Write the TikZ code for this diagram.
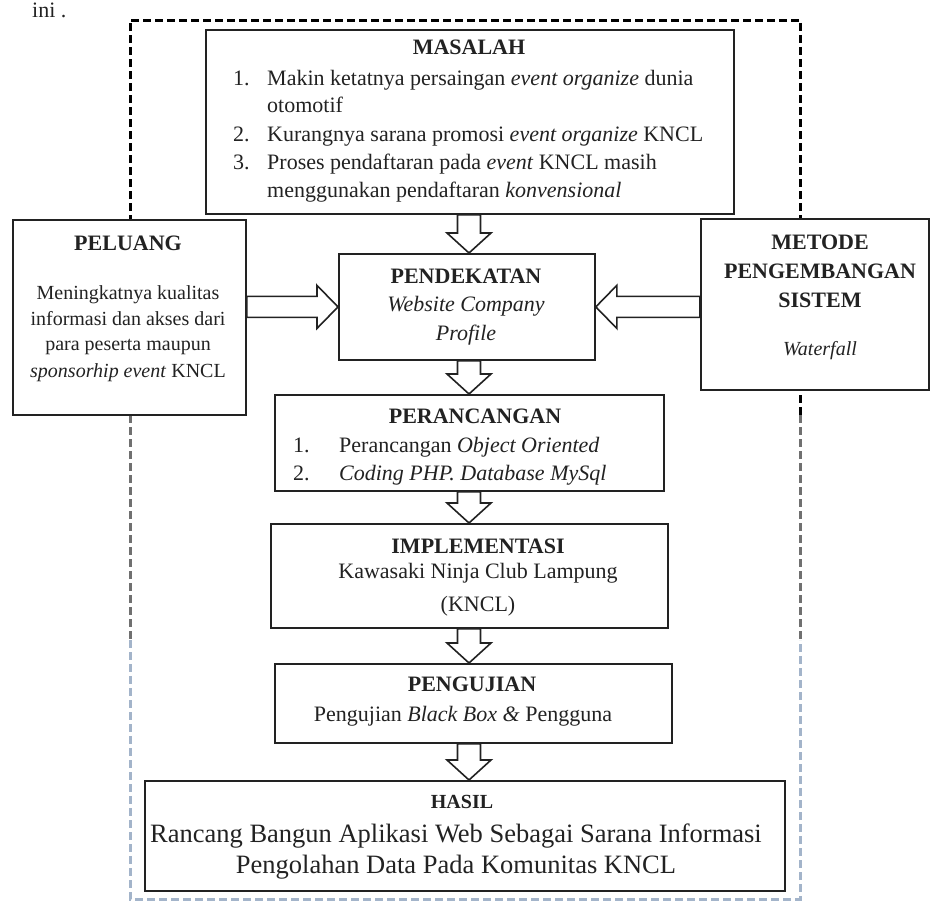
\documentclass[tikz,border=0pt]{standalone}
\usepackage{fontspec}
\setmainfont{Liberation Serif}
\usetikzlibrary{calc}
\definecolor{midg}{HTML}{707070}
\definecolor{lowb}{HTML}{A3B4CA}
\definecolor{ink}{HTML}{222222}
\newcommand{\fa}{\fontsize{22pt}{26pt}\selectfont}
\newcommand{\fb}{\fontsize{20pt}{24pt}\selectfont}
\newcommand{\fc}{\fontsize{26.5pt}{31pt}\selectfont}
\newcommand{\vblock}[2]{%
 \draw[blockarr] let \p1=(#1.south), \p2=(#2.north), \p3=(axis) in
 (\x3-11.5pt,\y1) -- (\x3+11.5pt,\y1) -- (\x3+11.5pt,\y2+20pt) -- (\x3+22pt,\y2+20pt)
 -- (\x3,\y2) -- (\x3-22pt,\y2+20pt) -- (\x3-11.5pt,\y2+20pt) -- cycle;}
\newcommand{\rblock}[2]{%
 \draw[blockarr] let \p1=(#1.east), \p2=(#2.west) in
 (\x1,\y2+10.5pt) -- (\x2-21pt,\y2+10.5pt) -- (\x2-21pt,\y2+21.5pt) -- (\x2,\y2)
 -- (\x2-21pt,\y2-21.5pt) -- (\x2-21pt,\y2-10.5pt) -- (\x1,\y2-10.5pt) -- cycle;}
\newcommand{\lblock}[2]{%
 \draw[blockarr] let \p1=(#1.west), \p2=(#2.east) in
 (\x1,\y2+10.5pt) -- (\x2+21pt,\y2+10.5pt) -- (\x2+21pt,\y2+21.5pt) -- (\x2,\y2)
 -- (\x2+21pt,\y2-21.5pt) -- (\x2+21pt,\y2-10.5pt) -- (\x1,\y2-10.5pt) -- cycle;}
\begin{document}
\begin{tikzpicture}[x=1pt,y=-1pt,
  box/.style={draw=ink, line width=1.8pt, fill=white, inner sep=0pt, anchor=north west},
  frame/.style={line width=3pt, dash pattern=on 8pt off 4pt},
  blockarr/.style={draw=ink, line width=1.6pt, fill=white, line join=miter},
  txt/.style={inner sep=0pt, text=ink}]
\useasboundingbox (0,0) rectangle (931,902);

% dashed frame
\draw[frame, draw=black] (130,415) -- (130,20) -- (800,20) -- (800,415);
\draw[frame, draw=midg] (130,415) -- (130,640);
\draw[frame, draw=midg] (800,415) -- (800,640);
\draw[frame, draw=lowb] (130,640) -- (130,899) -- (800,899) -- (800,640);

\node[txt, anchor=base west] (ini) at (32,17) {\fa ini .};

% boxes
\node[box, minimum width=528pt, minimum height=184pt] (masalah) at (205,29) {};
\node[box, minimum width=233pt, minimum height=195pt] (peluang) at (12,219) {};
\node[box, minimum width=256pt, minimum height=106pt] (pendekatan) at (338,253) {};
\node[box, minimum width=228pt, minimum height=171pt] (metode) at (700,218) {};
\node[box, minimum width=389pt, minimum height=96pt] (perancangan) at (274,394) {};
\node[box, minimum width=397pt, minimum height=104pt] (implementasi) at (270,523) {};
\node[box, minimum width=397pt, minimum height=79pt] (pengujian) at (274,663) {};
\node[box, minimum width=640pt, minimum height=110pt] (hasil) at (144,780) {};

% arrows
\coordinate (axis) at (469,0);
\vblock{masalah}{pendekatan}
\vblock{pendekatan}{perancangan}
\vblock{perancangan}{implementasi}
\vblock{implementasi}{pengujian}
\vblock{pengujian}{hasil}
\rblock{peluang}{pendekatan}
\lblock{metode}{pendekatan}

% MASALAH text
\node[txt, anchor=base] (tmas) at (469,54) {\fa\bfseries MASALAH};
\node[txt, anchor=base west] (m1n) at (233,85) {\fa 1.};
\node[txt, anchor=base west] (m1) at (267,85) {\fa Makin ketatnya persaingan \textit{event organize} dunia};
\node[txt, anchor=base west] (m1b) at (267,112) {\fa otomotif};
\node[txt, anchor=base west] (m2n) at (233,141) {\fa 2.};
\node[txt, anchor=base west] (m2) at (267,141) {\fa Kurangnya sarana promosi \textit{event organize} KNCL};
\node[txt, anchor=base west] (m3n) at (233,169) {\fa 3.};
\node[txt, anchor=base west] (m3) at (267,169) {\fa Proses pendaftaran pada \textit{event} KNCL masih};
\node[txt, anchor=base west] (m3b) at (267,197) {\fa menggunakan pendaftaran \textit{konvensional}};

% PELUANG text
\node[txt, anchor=base] (tpel) at (128,250) {\fa\bfseries PELUANG};
\node[txt, anchor=base] (p1) at (128,299) {\fb Meningkatnya kualitas};
\node[txt, anchor=base] (p2) at (128,325) {\fb informasi dan akses dari};
\node[txt, anchor=base] (p3) at (128,350) {\fb para peserta maupun};
\node[txt, anchor=base] (p4) at (128,377) {\fb \textit{sponsorhip event} KNCL};

% METODE text
\node[txt, anchor=base] (tme1) at (820,249) {\fa\bfseries METODE};
\node[txt, anchor=base] (tme2) at (820,278) {\fa\bfseries PENGEMBANGAN};
\node[txt, anchor=base] (tme3) at (820,307) {\fa\bfseries SISTEM};
\node[txt, anchor=base] (wf) at (820,355) {\fb\itshape Waterfall};

% PENDEKATAN text
\node[txt, anchor=base] (tpen) at (466,283) {\fa\bfseries PENDEKATAN};
\node[txt, anchor=base] (pe1) at (466,311) {\fa\itshape Website Company};
\node[txt, anchor=base] (pe2) at (466,340) {\fa\itshape Profile};

% PERANCANGAN text
\node[txt, anchor=base] (tper) at (475,423) {\fa\bfseries PERANCANGAN};
\node[txt, anchor=base west] (r1n) at (293,452) {\fa 1.};
\node[txt, anchor=base west] (r1) at (339,452) {\fa Perancangan \textit{Object Oriented}};
\node[txt, anchor=base west] (r2n) at (293,480) {\fa 2.};
\node[txt, anchor=base west] (r2) at (339,480) {\fa\itshape Coding PHP. Database MySql};

% IMPLEMENTASI text
\node[txt, anchor=base] (timp) at (478,553) {\fa\bfseries IMPLEMENTASI};
\node[txt, anchor=base] (i1) at (478,578) {\fa Kawasaki Ninja Club Lampung};
\node[txt, anchor=base] (i2) at (478,611) {\fa (KNCL)};

% PENGUJIAN text
\node[txt, anchor=base] (tpgj) at (472,691) {\fa\bfseries PENGUJIAN};
\node[txt, anchor=base] (g1) at (463,721) {\fa Pengujian \textit{Black Box \&} Pengguna};

% HASIL text
\node[txt, anchor=base] (thas) at (462,808) {\fb\bfseries HASIL};
\node[txt, anchor=base] (h1) at (456,842) {\fc Rancang Bangun Aplikasi Web Sebagai Sarana Informasi};
\node[txt, anchor=base] (h2) at (456,873) {\fc Pengolahan Data Pada Komunitas KNCL};
\end{tikzpicture}
\end{document}
